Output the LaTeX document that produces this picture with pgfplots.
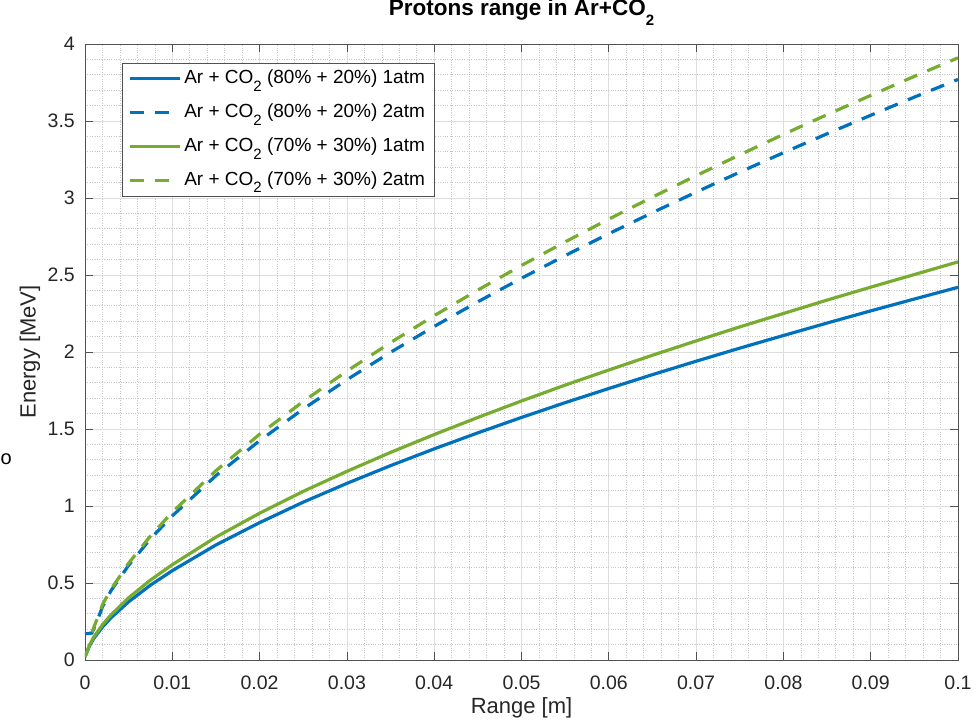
\documentclass[border=0pt]{standalone}
\usepackage{pgfplots}
\pgfplotsset{compat=1.18}
\usepackage{pgfplotstable}
\usepackage{fontspec}
\setmainfont{Liberation Sans}
\definecolor{mblue}{HTML}{0072BD}
\definecolor{mgreen}{HTML}{77AC30}
\definecolor{mtext}{HTML}{262626}
\newcommand\sub[1]{\raisebox{-0.42em}{\fontsize{15}{15}\selectfont #1}}

\pgfplotstableread{
x y
0 0.02
0.0005 0.09
0.001 0.139
0.002 0.214
0.003 0.275
0.005 0.378
0.0075 0.486
0.01 0.58
0.015 0.747
0.02 0.892
0.025 1.025
0.03 1.147
0.035 1.262
0.04 1.371
0.045 1.475
0.05 1.575
0.055 1.671
0.06 1.763
0.065 1.853
0.07 1.940
0.075 2.025
0.08 2.107
0.085 2.188
0.09 2.267
0.095 2.344
0.1 2.42
}\blueone

\pgfplotstableread{
x y
0 0.17
0.0008 0.175
0.0012 0.23
0.0017 0.30
0.002 0.345
0.003 0.452
0.005 0.615
0.0075 0.787
0.01 0.936
0.015 1.197
0.02 1.424
0.025 1.630
0.03 1.820
0.035 1.998
0.04 2.166
0.045 2.326
0.05 2.479
0.055 2.626
0.06 2.768
0.065 2.905
0.07 3.038
0.075 3.168
0.08 3.294
0.085 3.417
0.09 3.537
0.095 3.655
0.1 3.77
}\bluetwo

\pgfplotstableread{
x y
0 0.02
0.0005 0.096
0.001 0.148
0.002 0.229
0.003 0.294
0.005 0.404
0.0075 0.519
0.01 0.619
0.015 0.798
0.02 0.953
0.025 1.095
0.03 1.225
0.035 1.348
0.04 1.464
0.045 1.575
0.05 1.682
0.055 1.785
0.06 1.883
0.065 1.979
0.07 2.072
0.075 2.163
0.08 2.250
0.085 2.337
0.09 2.421
0.095 2.503
0.1 2.585
}\greenone

\pgfplotstableread{
x y
0.0008 0.18
0.0012 0.24
0.0017 0.31
0.002 0.36
0.003 0.461
0.005 0.629
0.0075 0.805
0.01 0.960
0.015 1.229
0.02 1.466
0.025 1.679
0.03 1.876
0.035 2.061
0.04 2.236
0.045 2.402
0.05 2.562
0.055 2.715
0.06 2.863
0.065 3.006
0.07 3.145
0.075 3.280
0.08 3.413
0.085 3.541
0.09 3.666
0.095 3.790
0.1 3.91
}\greentwo

\begin{document}
\begin{tikzpicture}
\begin{axis}[
  at={(0,0)}, anchor=south west,
  width=873pt, height=616pt, scale only axis,
  xmin=0, xmax=0.1, ymin=0, ymax=4,
  xtick={0,0.01,0.02,0.03,0.04,0.05,0.06,0.07,0.08,0.09,0.1},
  xticklabels={0,0.01,0.02,0.03,0.04,0.05,0.06,0.07,0.08,0.09,0.1},
  ytick={0,0.5,1,1.5,2,2.5,3,3.5,4},
  yticklabels={0,0.5,1,1.5,2,2.5,3,3.5,4},
  minor x tick num=4, minor y tick num=4,
  grid=both,
  major grid style={draw=black!13, line width=0.7pt},
  minor grid style={draw=black!22, dotted, line width=0.6pt},
  tick align=inside,
  major tick length=8pt, minor tick length=0pt,
  axis line style={draw=mtext!80, line width=0.8pt},
  every tick/.style={draw=mtext!80, line width=0.8pt},
  /pgf/number format/assume math mode=true,
  ticklabel style={font=\fontsize{19.5}{21}\selectfont, text=mtext},
  xticklabel style={anchor=center, yshift=-23pt},
  yticklabel style={anchor=east, inner sep=0pt, xshift=-10pt},
  xlabel={Range [m]},
  ylabel={Energy [MeV]},
  label style={font=\fontsize{22}{24}\selectfont, text=mtext},
  xlabel style={at={(axis description cs:0.5,-0.078)}, anchor=center},
  ylabel style={at={(axis description cs:-0.063,0.5)}, anchor=center},
  title={\textbf{Protons range in Ar+CO\sub{2}}},
  title style={at={(axis description cs:0.5,1.0357)}, anchor=base, font=\fontsize{22.5}{24}\selectfont, text=black},
  legend style={at={(axis description cs:0.042,0.9696)}, anchor=north west,
    draw=mtext!80, line width=0.8pt, fill=white, inner xsep=6pt, inner ysep=4pt,
    font=\fontsize{19}{21}\selectfont, text=black, row sep=10.3pt,
    nodes={text height=13.5pt, text depth=4pt, inner ysep=3pt, inner xsep=3pt}},
  legend cell align=left,
  legend image code/.code={\draw[#1] (0pt,0pt) -- (50pt,0pt);},
]
\addplot[mblue, line width=3.2pt, line join=round] table[x=x,y=y] {\blueone};
\addlegendentry{Ar + CO\sub{2} (80\% + 20\%) 1atm}
\addplot[mblue, line width=3.2pt, dash pattern=on 14pt off 11pt] table[x=x,y=y] {\bluetwo};
\addlegendentry{Ar + CO\sub{2} (80\% + 20\%) 2atm}
\addplot[mgreen, line width=3.2pt, line join=round] table[x=x,y=y] {\greenone};
\addlegendentry{Ar + CO\sub{2} (70\% + 30\%) 1atm}
\addplot[mgreen, line width=3.2pt, dash pattern=on 14pt off 11pt] table[x=x,y=y] {\greentwo};
\addlegendentry{Ar + CO\sub{2} (70\% + 30\%) 2atm}
\end{axis}
\node[font=\fontsize{20}{20}\selectfont, text=black, anchor=west, inner sep=0pt] at (-84.5pt,201pt) {o};
\pgfresetboundingbox
\useasboundingbox (-85pt,-65pt) rectangle (893pt,660pt);
\end{tikzpicture}
\end{document}
